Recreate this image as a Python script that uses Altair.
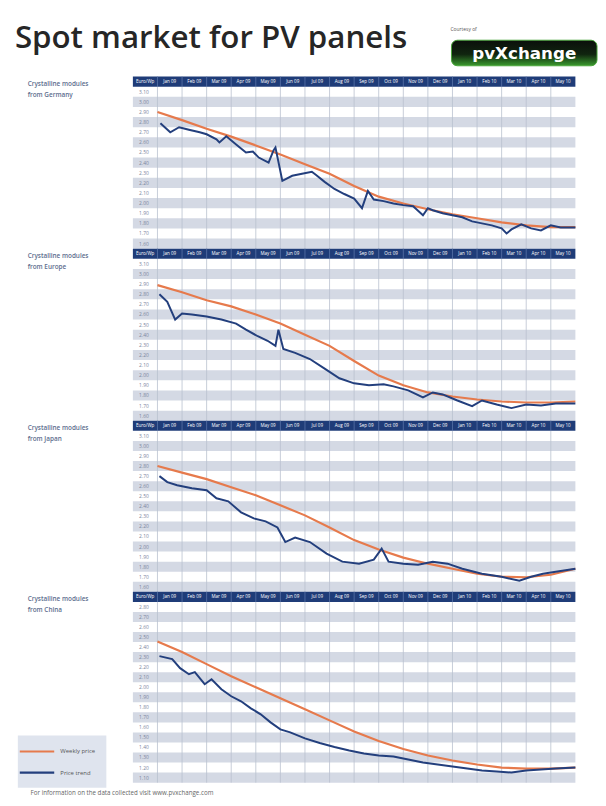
import altair as alt
import pandas as pd

TITLE = "Spot market for PV panels"
COURTESY = "Courtesy of"
FOOTER = "For information on the data collected visit www.pvxchange.com"
UNIT = "Euro/Wp"
MONTHS = ["Jan 09", "Feb 09", "Mar 09", "Apr 09", "May 09", "Jun 09", "Jul 09", "Aug 09",
          "Sep 09", "Oct 09", "Nov 09", "Dec 09", "Jan 10", "Feb 10", "Mar 10", "Apr 10", "May 10"]
LEGEND = ["Weekly price", "Price trend"]

# ---- panel data -------------------------------------------------------------
de_labels = [3.10, 3.00, 2.90, 2.80, 2.70, 2.60, 2.50, 2.40, 2.30, 2.20, 2.10, 2.00, 1.90, 1.80, 1.70, 1.60]
de_trend = [2.90, 2.82, 2.735, 2.657, 2.57, 2.48, 2.385, 2.29, 2.17, 2.064, 1.996, 1.94, 1.89, 1.85, 1.81, 1.78, 1.763, 1.763]
de_t = [0.12, 0.52, 0.88, 1.28, 1.72, 2.0, 2.4, 2.52, 2.8, 3.2, 3.6, 3.88, 4.12, 4.52, 4.72, 4.8, 5.08, 5.48, 5.88,
        6.28, 6.44, 6.8, 7.2, 7.6, 8.0, 8.32, 8.56, 8.8, 9.2, 9.6, 10.0, 10.4, 10.8, 11.0, 11.2, 11.6, 12.0, 12.4,
        12.8, 13.2, 13.6, 14.0, 14.2, 14.4, 14.8, 15.2, 15.6, 16.0, 16.4, 17.0]
de_price = [2.79, 2.70, 2.75, 2.725, 2.70, 2.68, 2.63, 2.60, 2.66, 2.58, 2.50, 2.51, 2.45, 2.40, 2.52, 2.55, 2.22,
            2.27, 2.29, 2.31, 2.28, 2.21, 2.14, 2.09, 2.045, 1.95, 2.12, 2.035, 2.02, 1.996, 1.98, 1.97, 1.88, 1.95,
            1.93, 1.90, 1.88, 1.86, 1.82, 1.80, 1.78, 1.75, 1.70, 1.74, 1.79, 1.75, 1.73, 1.78, 1.76, 1.76]

eu_labels = de_labels
eu_trend = [2.89, 2.82, 2.74, 2.68, 2.60, 2.51, 2.40, 2.29, 2.14, 1.996, 1.90, 1.83, 1.79, 1.76, 1.74, 1.73, 1.73, 1.74]
eu_t = [0.08, 0.4, 0.72, 1.0, 1.4, 2.0, 2.6, 3.2, 3.6, 4.08, 4.48, 4.8, 4.92, 5.12, 5.6, 6.2, 6.8, 7.4, 8.0, 8.6,
        9.2, 9.6, 10.2, 10.8, 11.2, 11.6, 12.2, 12.8, 13.2, 13.8, 14.4, 15.0, 15.6, 16.2, 17.0]
eu_price = [2.80, 2.725, 2.55, 2.61, 2.60, 2.58, 2.55, 2.51, 2.45, 2.385, 2.34, 2.29, 2.45, 2.26, 2.22, 2.16, 2.065,
            1.97, 1.92, 1.90, 1.91, 1.89, 1.85, 1.78, 1.83, 1.81, 1.75, 1.695, 1.75, 1.71, 1.675, 1.71, 1.70, 1.72, 1.72]

jp_labels = de_labels
jp_trend = [2.80, 2.735, 2.67, 2.59, 2.51, 2.41, 2.31, 2.19, 2.064, 1.97, 1.89, 1.83, 1.78, 1.73, 1.70, 1.695, 1.72, 1.78]
jp_t = [0.08, 0.4, 0.8, 1.4, 2.0, 2.4, 2.88, 3.4, 3.92, 4.4, 4.88, 5.2, 5.6, 6.2, 6.88, 7.52, 8.2, 8.8, 9.12, 9.4,
        10.0, 10.6, 11.2, 11.8, 12.4, 13.2, 14.0, 14.72, 15.2, 15.68, 16.2, 17.0]
jp_price = [2.70, 2.64, 2.61, 2.58, 2.56, 2.48, 2.45, 2.34, 2.28, 2.25, 2.19, 2.045, 2.09, 2.045, 1.93, 1.85, 1.83,
            1.87, 1.98, 1.85, 1.83, 1.82, 1.85, 1.83, 1.78, 1.73, 1.70, 1.66, 1.70, 1.73, 1.75, 1.78]

cn_labels = [2.80, 2.70, 2.60, 2.50, 2.40, 2.30, 2.20, 2.10, 2.00, 1.90, 1.80, 1.70, 1.60, 1.50, 1.40, 1.30, 1.20, 1.10]
cn_trend = [2.455, 2.35, 2.23, 2.11, 2.00, 1.89, 1.78, 1.67, 1.56, 1.465, 1.385, 1.32, 1.27, 1.23, 1.20, 1.19, 1.19, 1.20]
cn_t = [0.08, 0.6, 0.92, 1.28, 1.52, 1.92, 2.2, 2.6, 3.0, 3.4, 3.8, 4.2, 4.6, 5.0, 5.4, 6.0, 6.6, 7.2, 7.8, 8.4,
        9.0, 9.6, 10.2, 10.8, 11.4, 12.0, 12.6, 13.2, 13.8, 14.4, 15.0, 15.6, 16.2, 17.0]
cn_price = [2.31, 2.28, 2.19, 2.13, 2.15, 2.03, 2.08, 1.98, 1.91, 1.86, 1.79, 1.73, 1.65, 1.58, 1.55, 1.49, 1.445,
            1.405, 1.37, 1.34, 1.32, 1.31, 1.28, 1.25, 1.23, 1.21, 1.19, 1.17, 1.16, 1.15, 1.17, 1.18, 1.19, 1.20]

PANELS = [
    ("Crystalline modules", "from Germany", de_labels, de_trend, de_t, de_price, 175),
    ("Crystalline modules", "from Europe", eu_labels, eu_trend, eu_t, eu_price, 175),
    ("Crystalline modules", "from Japan", jp_labels, jp_trend, jp_t, jp_price, 174),
    ("Crystalline modules", "from China", cn_labels, cn_trend, cn_t, cn_price, 194),
]

# ---- style ------------------------------------------------------------------
NAVY = "#1f3c78"
BAND = "#d4d9e4"
GRID = "#b9c0cf"
ORANGE = "#e67a4c"
BLUE = "#233f7d"
LABEL = "#5d6d8e"
TICK = "#7a859c"
FONT = "Open Sans"
W = 575
XD = [-5.8, 17.2]


def panel(l1, l2, labels, trend, bt, bp, h, legend=False):
    step = 0.1
    top = labels[0] + 1.5 * step
    bottom = labels[-1] - 0.5 * step
    xs = alt.Scale(domain=XD, nice=False, zero=False)
    ys = alt.Scale(domain=[bottom, top], nice=False, zero=False)
    X = lambda f: alt.X(f, type="quantitative", scale=xs, axis=None)
    Y = lambda f: alt.Y(f, type="quantitative", scale=ys, axis=None)

    bands = pd.DataFrame({"x": -1.0, "x2": 17.0,
                          "y": [c - step / 2 for i, c in enumerate(labels) if i % 2 == 1],
                          "y2": [c + step / 2 for i, c in enumerate(labels) if i % 2 == 1]})
    band_l = alt.Chart(bands).mark_rect(color=BAND).encode(x=X("x"), x2="x2", y=Y("y"), y2="y2")

    head = pd.DataFrame({"x": [-1.0], "x2": [17.0], "y": [top - step], "y2": [top]})
    head_l = alt.Chart(head).mark_rect(color=NAVY).encode(x=X("x"), x2="x2", y=Y("y"), y2="y2")

    vl = pd.DataFrame({"x": list(range(0, 17)), "y": bottom, "y2": top - step})
    vl_l = alt.Chart(vl).mark_rule(color=GRID, strokeWidth=0.8).encode(x=X("x"), y=Y("y"), y2="y2")
    vh = pd.DataFrame({"x": list(range(0, 17)), "y": top - step, "y2": top})
    vh_l = alt.Chart(vh).mark_rule(color="#5a74a8", strokeWidth=0.8).encode(x=X("x"), y=Y("y"), y2="y2")

    yl = pd.DataFrame({"x": -0.55, "y": labels, "t": [f"{v:.2f}" for v in labels]})
    yl_l = alt.Chart(yl).mark_text(fontSize=5, color=TICK, font=FONT).encode(x=X("x"), y=Y("y"), text="t")

    hl = pd.DataFrame({"x": [-0.5] + [i + 0.5 for i in range(17)], "y": top - step / 2,
                       "t": [UNIT] + MONTHS})
    hl_l = alt.Chart(hl).mark_text(fontSize=4.6, color="white", font=FONT).encode(x=X("x"), y=Y("y"), text="t")

    nm = pd.DataFrame({"x": -5.28, "y": [top - 0.07, top - 0.185], "t": [l1, l2]})
    nm_l = alt.Chart(nm).mark_text(fontSize=6.5, color=LABEL, font=FONT, align="left", fontWeight=600).encode(
        x=X("x"), y=Y("y"), text="t")

    tr = pd.DataFrame({"t": list(range(len(trend))), "v": trend})
    tr_l = alt.Chart(tr).mark_line(color=ORANGE, strokeWidth=2.2).encode(x=X("t"), y=Y("v"))
    pr = pd.DataFrame({"t": bt, "v": bp})
    pr_l = alt.Chart(pr).mark_line(color=BLUE, strokeWidth=2).encode(x=X("t"), y=Y("v"))

    layers = [band_l, head_l, vl_l, vh_l, yl_l, hl_l, nm_l, tr_l, pr_l]
    if legend:
        lb = pd.DataFrame({"x": [-5.68], "x2": [-2.08], "y": [bottom - 0.05], "y2": [bottom + 0.47]})
        lb_l = alt.Chart(lb).mark_rect(color="#dfe4ee").encode(x=X("x"), x2="x2", y=Y("y"), y2="y2")
        ll = pd.DataFrame({"x": [-5.6, -4.2, -5.6, -4.2], "y": [bottom + 0.31] * 2 + [bottom + 0.10] * 2,
                           "k": ["a", "a", "b", "b"]})
        ll_l = alt.Chart(ll).mark_line(strokeWidth=2.2).encode(
            x=X("x"), y=Y("y"), color=alt.Color("k:N", scale=alt.Scale(domain=["a", "b"], range=[ORANGE, BLUE]),
                                                legend=None))
        lt = pd.DataFrame({"x": -3.95, "y": [bottom + 0.31, bottom + 0.10], "t": LEGEND})
        lt_l = alt.Chart(lt).mark_text(fontSize=6, color="#555", font=FONT, align="left").encode(
            x=X("x"), y=Y("y"), text="t")
        layers = [band_l, head_l, vl_l, vh_l, yl_l, hl_l, nm_l, lb_l, ll_l, lt_l, tr_l, pr_l]
    return alt.layer(*layers).properties(width=W, height=h)


one = pd.DataFrame({"a": [0]})
logo_fill = alt.Gradient(gradient="linear", x1=0, y1=0, x2=0, y2=1,
                         stops=[alt.GradientStop(offset=0, color="#0b0f0b"),
                                alt.GradientStop(offset=0.55, color="#10240f"),
                                alt.GradientStop(offset=1, color="#3a9a2e")])
title_c = alt.layer(
    alt.Chart(one).mark_text(text=TITLE, fontSize=31.8, fontWeight=600, font=FONT, color="#262626", align="left",
                             baseline="alphabetic").encode(x=alt.value(0), y=alt.value(34)),
    alt.Chart(one).mark_text(text=COURTESY, fontSize=5, font=FONT, color="#555", align="left").encode(
        x=alt.value(443), y=alt.value(15)),
    alt.Chart(one).mark_rect(color=logo_fill, cornerRadius=6, stroke="#4aa53b", strokeWidth=1).encode(
        x=alt.value(444), x2=alt.value(592), y=alt.value(26), y2=alt.value(52)),
    alt.Chart(one).mark_text(text="pvXchange", fontSize=17, fontWeight="bold", font="DejaVu Sans", color="white",
                             align="center").encode(x=alt.value(518), y=alt.value(40)),
).properties(width=W, height=63)

footer_c = alt.Chart(one).mark_text(text=FOOTER, fontSize=6.3, font=FONT, color="#666", align="left").encode(
    x=alt.value(16), y=alt.value(11)).properties(width=W, height=16)

panels = [panel(*p, legend=(i == 3)) for i, p in enumerate(PANELS)]

chart = alt.vconcat(title_c, *panels, footer_c, spacing=0, bounds="flush").properties(
    padding={"left": 7, "top": 0, "right": 0, "bottom": 0}
).configure_view(strokeWidth=0).resolve_scale(x="independent", y="independent")

chart.save("out.html", embed_options={"renderer": "svg", "actions": False})
